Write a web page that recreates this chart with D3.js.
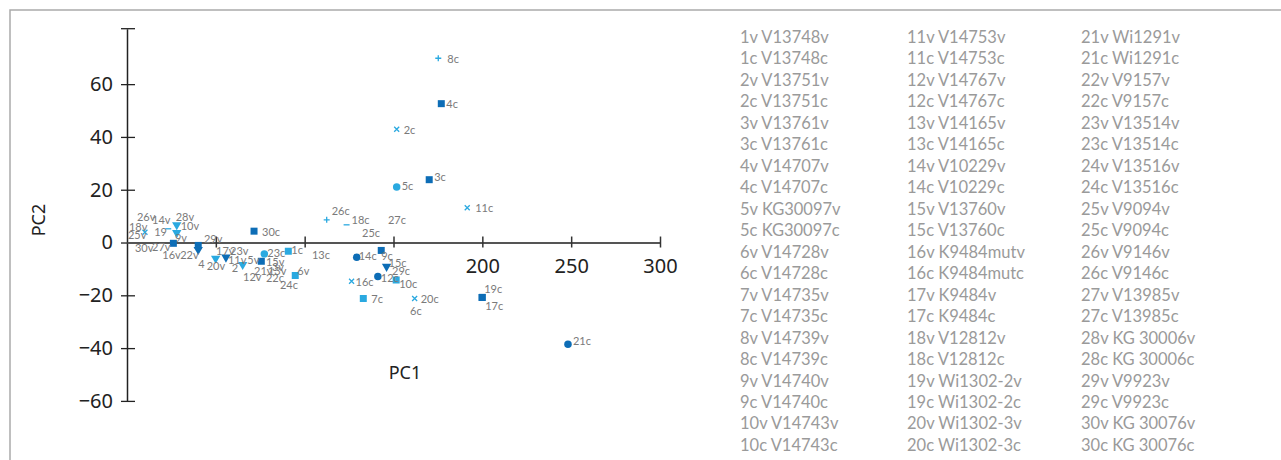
<!DOCTYPE html>
<html>
<head>
<meta charset="utf-8">
<script src="https://cdn.jsdelivr.net/npm/d3@7"></script>
<style>
  body { margin: 0; background: #fff; }
  svg { display: block; }
</style>
</head>
<body>
<svg id="chart" width="1281" height="460"></svg>
<script>
// PCA scores: [label, PC1, PC2, marker, tone]
var samples = [
  ["26v", 5.6, 9.9, "none", ""],
  ["14v", 14.1, 8.7, "none", ""],
  ["18v", 1.1, 6.1, "none", ""],
  ["25v", 10.1, 3.9, "times", "light"],
  ["30v", 4.5, -1.8, "none", ""],
  ["27v", 14.1, -1.5, "none", ""],
  ["19", 23.2, 5.2, "minus", "light"],
  ["28v", 28.0, 6.7, "tri", "light"],
  ["10v", 28.0, 3.7, "tri", "light"],
  ["9v", 27.0, 1.9, "none", ""],
  ["29v", 43.3, 1.5, "none", ""],
  ["16v", 26.1, -0.3, "square", "dark"],
  ["22v", 40.1, -1.1, "square", "dark"],
  ["4", 40.1, -2.7, "tri", "dark"],
  ["20v", 49.9, -6.0, "tri", "light"],
  ["17v", 50.1, -3.0, "none", ""],
  ["23v", 58.0, -3.0, "none", ""],
  ["11v", 55.7, -5.6, "tri", "dark"],
  ["2", 65.1, -8.4, "tri", "light"],
  ["12v", 65.3, -12.9, "none", ""],
  ["5v", 75.6, -7.1, "square", "dark"],
  ["21v", 71.5, -10.6, "none", ""],
  ["15v", 78.2, -7.2, "none", ""],
  ["3v", 81.6, -9.1, "none", ""],
  ["13v", 79.3, -10.6, "none", ""],
  ["22c", 78.2, -13.3, "none", ""],
  ["24c", 86.1, -16.0, "none", ""],
  ["23c", 77.3, -4.3, "circle", "light"],
  ["1c", 90.8, -3.3, "square", "light"],
  ["6v", 94.7, -12.5, "square", "light"],
  ["30c", 71.5, 4.3, "square", "dark"],
  ["13c", 104.1, -4.6, "none", ""],
  ["26c", 112.4, 8.6, "plus", "light"],
  ["18c", 123.6, 6.7, "minus", "light"],
  ["25c", 132.3, 3.9, "none", ""],
  ["27c", 146.9, 8.6, "none", ""],
  ["14c", 129.3, -5.6, "circle", "dark"],
  ["9c", 143.1, -3.0, "square", "dark"],
  ["15c", 146.1, -9.1, "tri", "dark"],
  ["29c", 149.2, -10.6, "none", ""],
  ["12c", 141.2, -12.9, "circle", "dark"],
  ["10c", 151.5, -14.2, "square", "light"],
  ["16c", 126.4, -14.7, "times", "light"],
  ["7c", 133.0, -21.2, "square", "light"],
  ["20c", 161.9, -21.2, "times", "light"],
  ["6c", 159.3, -25.6, "none", ""],
  ["19c", 199.9, -20.8, "square", "dark"],
  ["17c", 199.9, -20.8, "square", "dark"],
  ["21c", 248.2, -38.5, "circle", "dark"],
  ["11c", 191.5, 13.2, "times", "light"],
  ["8c", 175.2, 69.8, "plus", "light"],
  ["4c", 176.9, 52.6, "square", "dark"],
  ["2c", 151.8, 42.9, "times", "light"],
  ["3c", 170.1, 23.8, "square", "dark"],
  ["5c", 151.8, 21.0, "circle", "light"]
];

var xTicks = [50, 100, 150, 200, 250, 300];
var xTickLabels = [200, 250, 300];
var yTicks = [-60, -40, -20, 0, 20, 40, 60];

// strain names, numbered 1..30 (each has a v and a c sample)
var strains = ["V13748", "V13751", "V13761", "V14707", "KG30097", "V14728", "V14735", "V14739", "V14740", "V14743",
  "V14753", "V14767", "V14165", "V10229", "V13760", "K9484mut", "K9484", "V12812", "Wi1302-2", "Wi1302-3",
  "Wi1291", "V9157", "V13514", "V13516", "V9094", "V9146", "V13985", "KG 30006", "V9923", "KG 30076"];

// label offsets in px (layout only), default is right of the marker
var labelNudge = {
  "25v": [-17, 2], "19": [-14, 3], "28v": [-1, -8], "10v": [4, -7], "16v": [-11, 11],
  "22v": [-18, 9], "4": [0, 14], "20v": [-9, 7], "11v": [2, 2], "2": [-11, 3],
  "5v": [-14, -2], "23c": [3, -1], "1c": [3, -2], "6v": [2, -5], "30c": [8, 0],
  "26c": [5, -9], "18c": [5, -5], "14c": [2, -2], "9c": [0, 5], "15c": [2, -4],
  "12c": [3, 1], "10c": [3, 3], "16c": [4, 0], "7c": [8, 0], "20c": [6, 0],
  "19c": [2, -9], "17c": [3, 8], "21c": [5, -4], "11c": [8, 0], "8c": [9, 0],
  "4c": [5, 0], "2c": [7, 0], "3c": [5, -3], "5c": [5, -2]
};

var tones = { dark: "#0d6db6", light: "#2aa9e0" };

var svg = d3.select("#chart");

// frame
svg.append("rect")
  .attr("x", 10).attr("y", 10)
  .attr("width", 1400).attr("height", 600)
  .attr("fill", "none").attr("stroke", "#aaa").attr("stroke-width", 1.5);

var x = d3.scaleLinear().domain([0, 300]).range([127, 660]);
var y = d3.scaleLinear().domain([-60, 81]).range([400.9, 28.7]);

// y axis
var yAxis = svg.append("g")
  .attr("transform", "translate(" + x(0) + ",0)")
  .call(d3.axisLeft(y).tickValues(yTicks).tickSize(6).tickPadding(8).tickSizeOuter(0));
yAxis.select(".domain").attr("stroke", "#222").attr("stroke-width", 1.5);
yAxis.selectAll(".tick line").attr("x2", 8).attr("x1", -6).attr("stroke", "#222").attr("stroke-width", 1.3);
yAxis.selectAll(".tick text")
  .attr("font-family", "Noto Sans, Open Sans, sans-serif").attr("font-size", 20).attr("fill", "#222");
yAxis.append("line")
  .attr("x1", -6).attr("x2", 8).attr("y1", y(81)).attr("y2", y(81))
  .attr("stroke", "#222").attr("stroke-width", 1.3);

// x axis along PC2 = 0
var xAxis = svg.append("g")
  .attr("transform", "translate(0," + y(0) + ")")
  .call(d3.axisBottom(x).tickValues(xTicks).tickSize(5).tickPadding(11).tickSizeOuter(0)
    .tickFormat(function(d) { return xTickLabels.indexOf(d) >= 0 ? d : ""; }));
xAxis.select(".domain").attr("stroke", "#555").attr("stroke-width", 2);
xAxis.selectAll(".tick line").attr("y1", -6).attr("y2", 5).attr("stroke", "#333").attr("stroke-width", 1.5);
xAxis.selectAll(".tick text")
  .attr("font-family", "Noto Sans, Open Sans, sans-serif").attr("font-size", 20).attr("fill", "#222");

// axis titles
svg.append("text")
  .attr("x", 405).attr("y", 372)
  .attr("text-anchor", "middle").attr("dominant-baseline", "central")
  .attr("font-family", "Noto Sans, Open Sans, sans-serif").attr("font-size", 18).attr("fill", "#222")
  .text("PC1");
svg.append("text")
  .attr("transform", "translate(38,220) rotate(-90)")
  .attr("text-anchor", "middle").attr("dominant-baseline", "central")
  .attr("font-family", "Noto Sans, Open Sans, sans-serif").attr("font-size", 18).attr("fill", "#222")
  .text("PC2");

// marker shapes
var minusType = { draw: function(ctx, size) { var r = Math.sqrt(size) / 2; ctx.moveTo(-r, 0); ctx.lineTo(r, 0); } };
var plusType = { draw: function(ctx, size) { var r = Math.sqrt(size) / 2;
  ctx.moveTo(-r, 0); ctx.lineTo(r, 0); ctx.moveTo(0, -r); ctx.lineTo(0, r); } };
var timesType = { draw: function(ctx, size) { var r = Math.sqrt(size) / 2.8;
  ctx.moveTo(-r, -r); ctx.lineTo(r, r); ctx.moveTo(-r, r); ctx.lineTo(r, -r); } };

var shapeTypes = {
  square: [d3.symbolSquare, 49, true],
  circle: [d3.symbolCircle, 44, true],
  tri: [d3.symbolTriangle, 38, true],
  times: [timesType, 49, false],
  plus: [plusType, 36, false],
  minus: [minusType, 36, false]
};

var marked = samples.filter(function(d) { return d[3] !== "none"; });

svg.append("g").selectAll("path")
  .data(marked)
  .join("path")
  .attr("transform", function(d) {
    return "translate(" + x(d[1]) + "," + y(d[2]) + ")" + (d[3] === "tri" ? " rotate(180)" : "");
  })
  .attr("d", function(d) { var s = shapeTypes[d[3]]; return d3.symbol(s[0], s[1])(); })
  .attr("fill", function(d) { return shapeTypes[d[3]][2] ? tones[d[4]] : "none"; })
  .attr("stroke", function(d) { return shapeTypes[d[3]][2] ? "none" : tones[d[4]]; })
  .attr("stroke-width", 1.3);

// point labels
svg.append("g").selectAll("text")
  .data(samples)
  .join("text")
  .attr("x", function(d) {
    var n = labelNudge[d[0]] || (d[3] === "none" ? [0, 0] : [5, 0]);
    return x(d[1]) + n[0];
  })
  .attr("y", function(d) {
    var n = labelNudge[d[0]] || [0, 0];
    return y(d[2]) + n[1];
  })
  .attr("dominant-baseline", "central")
  .attr("font-family", "Lato, sans-serif").attr("font-size", 11).attr("fill", "#7a7a7a")
  .text(function(d) { return d[0]; });

// legend: three columns of ten strains, v row then c row
var legendRows = [];
strains.forEach(function(name, i) {
  var n = i + 1;
  legendRows.push({ col: Math.floor(i / 10), row: (i % 10) * 2, text: n + "v " + name + "v" });
  legendRows.push({ col: Math.floor(i / 10), row: (i % 10) * 2 + 1, text: n + "c " + name + "c" });
});
var legendX = [740, 907, 1081];

svg.append("g").selectAll("text")
  .data(legendRows)
  .join("text")
  .attr("x", function(d) { return legendX[d.col]; })
  .attr("y", function(d) { return 37 + d.row * 21.47; })
  .attr("dominant-baseline", "central")
  .attr("font-family", "Lato, sans-serif").attr("font-size", 16.5).attr("fill", "#9a9a9a")
  .text(function(d) { return d.text; });
</script>
</body>
</html>
